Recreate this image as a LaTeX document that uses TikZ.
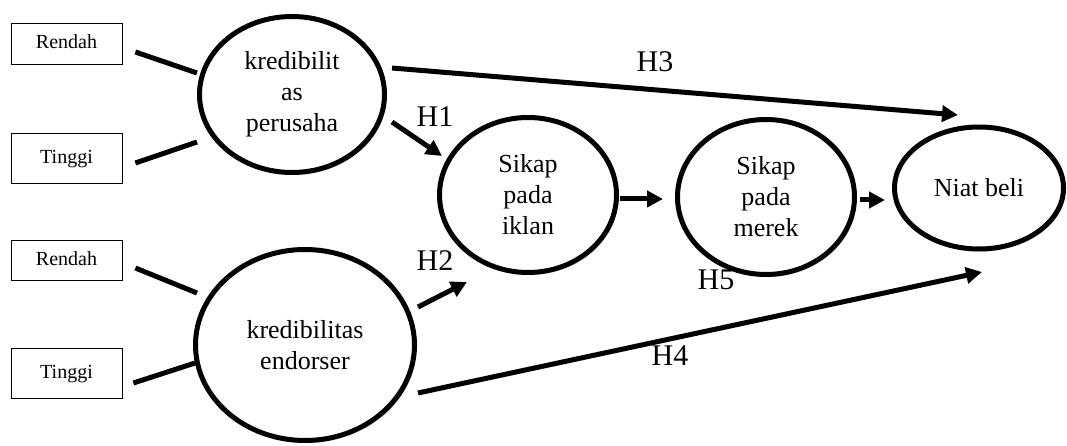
\documentclass[tikz,border=0pt]{standalone}
\usepackage{fontspec}
\setmainfont{Liberation Serif}
\usetikzlibrary{arrows.meta,calc,positioning,shapes.geometric,shadows}
\tikzset{
  konstruk/.style = {
    ellipse, draw, fill=white, line width=5pt, inner sep=0pt, align=center,
    font=\fontsize{26}{31}\selectfont,
    drop shadow={shadow xshift=2pt, shadow yshift=-2.5pt, opacity=.3}
  },
  level/.style = {
    draw, line width=0.8pt, minimum width=111pt, inner sep=0pt,
    text height=14pt, text depth=3pt,
    font=\fontsize{20}{24}\selectfont
  },
  link/.style = {
    line width=5pt
  },
  arc/.style = {
    -{Triangle[length=16pt,width=16pt]},
    line width=5pt
  },
  hlabel/.style = {
    font=\fontsize{30}{30}\selectfont, inner sep=0pt
  }
}

\begin{document}
\begin{tikzpicture}[x=1pt, y=-1pt]
		\useasboundingbox (0,0) rectangle (1067,446);
		\node[level, minimum height=41pt] (r1) at (66.5,43.5) {Rendah};
		\node[level, minimum height=50pt] (t1) at (66.5,158) {Tinggi};
		\node[level, minimum height=40pt] (r2) at (66.5,260) {Rendah};
		\node[level, minimum height=50pt] (t2) at (66.5,373) {Tinggi};
		
		\node[konstruk, minimum width=185pt, minimum height=156pt] (kp) at (292,94.5) {kredibilit\\as\\perusaha};
		\node[konstruk, minimum width=219pt, minimum height=191pt] (ke) at (305,345) {kredibilitas\\endorser};
		\node[konstruk, minimum width=177pt, minimum height=155pt] (si) at (528,195) {Sikap\\pada\\iklan};
		\node[konstruk, minimum width=177pt, minimum height=155pt] (sm) at ($(si)+(238,2)$) {Sikap\\pada\\merek};
		\node[konstruk, minimum width=169pt, minimum height=122pt] (nb) at (979,188) {Niat beli};
%		
		\path[link]   ($(r1.east)+(13,8.5)$) edge   ($(kp)+(-95,-21.5)$);
		\path[link]   ($(t1.east)+(13,5)$) edge   ($(kp)+(-95,47.5)$);
		\path[link]   ($(r2.east)+(13,8)$) edge   ($(ke)+(-108,-52)$);
		\path[link]   ($(t2.east)+(11,10)$) edge   ($(ke)+(-110,18)$);
		
		\path[arc]   ($(kp)+(100,-26.5)$) edge   ($(nb)+(-21,-73)$);
		\path[arc]   ($(kp)+(100,27.5)$) edge   ($(si)+(-86,-39)$);
		\path[arc]   ($(ke)+(113,-38)$) edge   ($(si)+(-61,87)$);
		\path[arc]   ($(ke)+(113,48)$) edge   ($(nb)+(3,84)$);
		\path[arc]   ($(si)+(92,4)$) edge   ($(sm)+(-103,2)$);
		\path[arc]   ($(sm)+(94,3)$) edge   ($(nb)+(-94,12)$);
		
		\node[hlabel] (h1) at (435,117) {H1};
		\node[hlabel] (h2) at (435,261) {H2};
		\node[hlabel] (h3) at (655,62) {H3};
		\node[hlabel] (h4) at (670,356) {H4};
		\node[hlabel] (h5) at (716,280) {H5};
	\end{tikzpicture}
\end{document}
